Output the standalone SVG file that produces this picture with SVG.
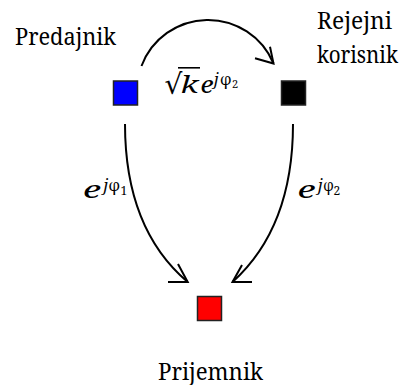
<svg xmlns="http://www.w3.org/2000/svg" width="407" height="385" viewBox="0 0 407 385">
<style>
text{font-family:'Noto Serif','DejaVu Serif','Liberation Serif',serif;fill:#000}
.lbl{font-size:24px}
.mi{font-style:italic}
.node{stroke:#222;stroke-width:1.5}
.conn{fill:none;stroke:#000;stroke-width:2}
</style>
<rect width="407" height="385" fill="#fff"/>
<g id="predajnik">
<rect class="node" x="113.5" y="81" width="24" height="24" fill="#0000ff"/>
<text class="lbl" x="15" y="44.5" textLength="101" lengthAdjust="spacingAndGlyphs">Predajnik</text>
</g>
<g id="rejejni">
<rect class="node" x="281.5" y="81" width="24" height="24" fill="#000"/>
<text class="lbl" x="317" y="29" textLength="75" lengthAdjust="spacingAndGlyphs">Rejejni</text>
<text class="lbl" x="317" y="63" textLength="81" lengthAdjust="spacingAndGlyphs">korisnik</text>
</g>
<g id="prijemnik">
<rect class="node" x="197.5" y="296.5" width="24" height="24" fill="#ff0000"/>
<text class="lbl" x="158" y="379.5" textLength="105" lengthAdjust="spacingAndGlyphs">Prijemnik</text>
</g>
<g id="connectors">
<path class="conn" d="M141.5,66 A71,71 0 0 1 273.5,63.5"/>
<path class="conn" d="M255,58.3 L273.5,63.5 L270,46.7"/>
<path class="conn" d="M125,124 C125,200 150,250 187.7,282"/>
<path class="conn" d="M168,282 L187.7,282 L178,264"/>
<path class="conn" d="M293,124 C293,200 268,250 232.5,282"/>
<path class="conn" d="M252,282 L232.5,282 L242,265"/>
</g>
<g id="label-relay">
<text x="164.5" y="94" font-size="28" font-family="DejaVu Serif">√</text>
<line x1="178" y1="67.8" x2="200" y2="67.8" stroke="#000" stroke-width="1.6"/>
<text class="mi" x="180.5" y="93.3" font-size="24" textLength="18" lengthAdjust="spacingAndGlyphs">k</text>
<text class="mi" x="200.5" y="93.3" font-size="24" textLength="13" lengthAdjust="spacingAndGlyphs">e</text>
<text class="mi" x="214" y="85" font-size="16">j</text>
<text x="220" y="85" font-size="16" textLength="11.5" lengthAdjust="spacingAndGlyphs">φ</text>
<text x="232" y="88.3" font-size="11">2</text>
</g>
<g id="label-direct">
<text class="mi" x="83" y="198.3" font-size="24" textLength="18" lengthAdjust="spacingAndGlyphs">e</text>
<text class="mi" x="103.5" y="190.5" font-size="16">j</text>
<text x="108.5" y="190.5" font-size="16" textLength="11.5" lengthAdjust="spacingAndGlyphs">φ</text>
<text x="120.5" y="195" font-size="12">1</text>
</g>
<g id="label-relay-dest">
<text class="mi" x="297.5" y="198.3" font-size="24" textLength="18" lengthAdjust="spacingAndGlyphs">e</text>
<text class="mi" x="318" y="190.5" font-size="16">j</text>
<text x="323.3" y="190.5" font-size="16" textLength="10.5" lengthAdjust="spacingAndGlyphs">φ</text>
<text x="333.5" y="195" font-size="12">2</text>
</g>
</svg>
